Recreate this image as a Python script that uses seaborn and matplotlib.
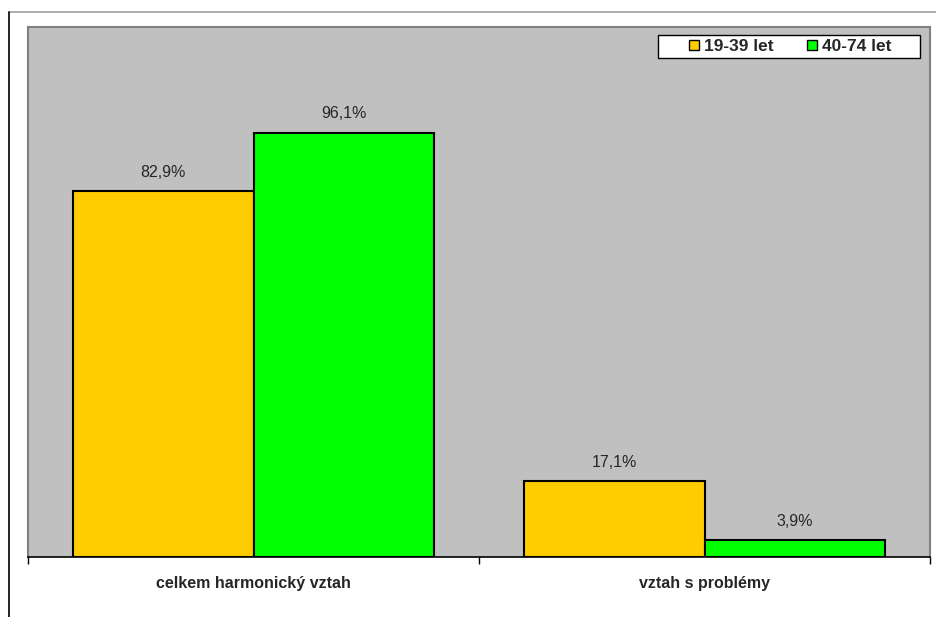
import matplotlib
matplotlib.use("Agg")
import matplotlib.pyplot as plt
import matplotlib.lines as mlines
from matplotlib.patches import Rectangle
from matplotlib.transforms import IdentityTransform
import pandas as pd
import seaborn as sns

# data
categories = ["celkem harmonický vztah", "vztah s problémy"]
groups = ["19-39 let", "40-74 let"]
young = [82.9, 17.1]
old = [96.1, 3.9]
colors = ["#FFCC00", "#00FF00"]

df = pd.DataFrame({
    "kategorie": categories * 2,
    "skupina": [groups[0]] * 2 + [groups[1]] * 2,
    "hodnota": young + old,
})

sns.set_theme(style="white")
plt.rcParams["font.family"] = ["Liberation Sans", "DejaVu Sans"]

fig = plt.figure(figsize=(9.36, 6.17), dpi=100)
ax = fig.add_axes([28 / 936, 60 / 617, 902 / 936, 530 / 617])
ax.set_facecolor("#C0C0C0")

sns.barplot(data=df, x="kategorie", y="hodnota", hue="skupina",
            palette=dict(zip(groups, colors)), order=categories, hue_order=groups,
            edgecolor="black", linewidth=1.5, width=0.8, gap=0, saturation=1, ax=ax)

for cont in ax.containers:
    labels = [f"{b.get_height():.1f}".replace(".", ",") + "%" for b in cont]
    ax.bar_label(cont, labels=labels, padding=8, fontsize=11.5)

ax.set_xlim(-0.5, 1.5)
ax.set_ylim(0, 120)
ax.set_yticks([])
ax.set_xlabel("")
ax.set_ylabel("")
ax.tick_params(axis="x", which="major", length=0, pad=14, labelsize=11.5)
for lab in ax.get_xticklabels():
    lab.set_fontweight("bold")
ax.set_xticks([-0.5, 0.5, 1.5], minor=True)
ax.tick_params(axis="x", which="minor", length=5, width=1, color="black", direction="out", bottom=True)

for side in ["top", "left", "right"]:
    ax.spines[side].set_color("#808080")
    ax.spines[side].set_linewidth(1.5)
ax.spines["bottom"].set_color("black")
ax.spines["bottom"].set_linewidth(1.2)

# legend: wide white box with lots of side padding, like the Excel original
leg = ax.legend(loc="center right", bbox_to_anchor=(0.9575, 0.963), ncol=2, frameon=False,
                prop={"weight": "bold", "size": 12.5},
                handlelength=0.58, handleheight=0.58, handletextpad=0.3,
                columnspacing=1.9, borderpad=0, borderaxespad=0)
for h in leg.legend_handles:
    h.set_edgecolor("black")
    h.set_linewidth(1.0)

fig.canvas.draw()
bb = leg.get_window_extent()
cy = (bb.y0 + bb.y1) / 2
box = Rectangle((bb.x0 - 31, cy - 11.5), bb.width + 59, 23, transform=IdentityTransform(),
                facecolor="white", edgecolor="black", linewidth=1.0, zorder=5)
fig.add_artist(box)

# outer chart frame
fig.add_artist(mlines.Line2D([9 / 936, 1], [1 - 12 / 617, 1 - 12 / 617],
                             color="#A0A0A0", linewidth=1.2, transform=fig.transFigure))
fig.add_artist(mlines.Line2D([9 / 936, 9 / 936], [0, 1 - 12 / 617],
                             color="black", linewidth=1.2, transform=fig.transFigure))

# put the legend back on top of the box
leg.remove()
leg.set_zorder(6)
fig.add_artist(leg)

fig.savefig("out.png", dpi=100)
